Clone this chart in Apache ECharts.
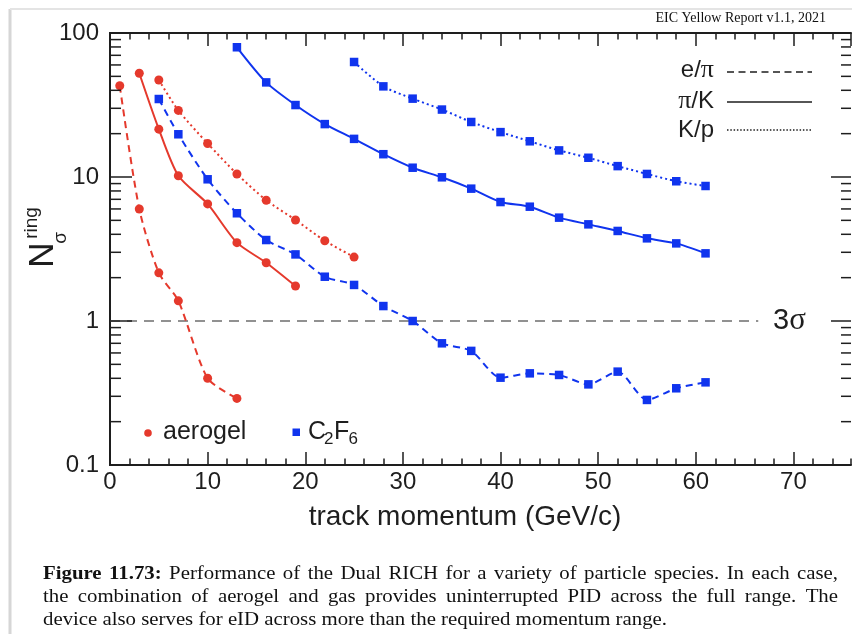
<!DOCTYPE html>
<html><head><meta charset="utf-8">
<script src="https://cdn.jsdelivr.net/npm/echarts@6/dist/echarts.min.js"></script>
<style>html,body{margin:0;padding:0;background:#fff}#c{width:852px;height:634px}</style>
</head><body><div id="c"></div><script>
// ---- data (track momentum in GeV/c, N_sigma^ring) ----
const aerogelEPiX = [1, 3, 5, 7, 10, 13];
const aerogelEPi  = [43, 6.0, 2.16, 1.38, 0.40, 0.29];
const aerogelPiKX = [3, 5, 7, 10, 13, 16, 19];
const aerogelPiK  = [52.5, 21.5, 10.2, 6.5, 3.5, 2.54, 1.75];
const aerogelKpX  = [5, 7, 10, 13, 16, 19, 22, 25];
const aerogelKp   = [47.2, 29, 17.1, 10.5, 6.9, 5.03, 3.61, 2.78];
const gasEPiX = [5, 7, 10, 13, 16, 19, 22, 25, 28, 31, 34, 37, 40, 43, 46, 49, 52, 55, 58, 61];
const gasEPi  = [34.8, 19.8, 9.64, 5.6, 3.65, 2.9, 2.03, 1.78, 1.27, 1.0, 0.70, 0.62, 0.404, 0.433, 0.422, 0.363, 0.445, 0.283, 0.341, 0.375];
const gasPiKX = [13, 16, 19, 22, 25, 28, 31, 34, 37, 40, 43, 46, 49, 52, 55, 58, 61];
const gasPiK  = [79.6, 45.4, 31.6, 23.3, 18.4, 14.4, 11.6, 9.95, 8.3, 6.7, 6.22, 5.22, 4.69, 4.22, 3.75, 3.46, 2.95];
const gasKpX  = [25, 28, 31, 34, 37, 40, 43, 46, 49, 52, 55, 58, 61];
const gasKp   = [62.9, 42.6, 35.0, 29.4, 24.1, 20.5, 17.7, 15.3, 13.6, 11.9, 10.5, 9.34, 8.66];
const threeSigmaX = [0, 66.4];
const threeSigmaY = [1, 1];
const yMajorTicks = [0.1, 1, 10, 100];
const yMinorTicks = [0.2,0.3,0.4,0.5,0.6,0.7,0.8,0.9, 2,3,4,5,6,7,8,9, 20,30,40,50,60,70,80,90];
const xMin = 0, xMax = 75.9, yMin = 0.1, yMax = 100;
const captionBold = ['Figure', '11.73:'];
const captionLines = [
  'Performance of the Dual RICH for a variety of particle species. In each case,',
  'the combination of aerogel and gas provides uninterrupted PID across the full range. The',
  'device also serves for eID across more than the required momentum range.'
];

const RED = '#e5392c', BLUE = '#1034ee', INK = '#1e1e1e';
const SANS = '"Liberation Sans", Arial, Helvetica, sans-serif';
const SERIF = '"Liberation Serif", "Times New Roman", serif';
const CAPF = '"Liberation Serif", serif';
const zip = (xs, ys) => xs.map((x, i) => [x, ys[i]]);

function lineSeries(name, xs, ys, color, symbol, size, dash) {
  return {
    name, type: 'line', data: zip(xs, ys), xAxisIndex: 0, yAxisIndex: 0,
    smooth: 0.25, symbol, symbolSize: size, showSymbol: true,
    itemStyle: { color }, lineStyle: { color, width: 2, type: dash },
    z: 4, animation: false
  };
}

// ---- caption layout (justified, horizontally widened to mimic the book face) ----
const mctx = document.createElement('canvas').getContext('2d');
function measure(t, font) { mctx.font = font; return mctx.measureText(t).width; }
const capSize = 18.5;
const capNorm = capSize + 'px ' + CAPF, capBold = 'bold ' + capSize + 'px ' + CAPF;
const capScale = 624 / measure(captionLines[2], capNorm);
const capGraphics = [];
function placeLine(words, y, justify) {
  const left = 43, right = 838;
  const widths = words.map(w => measure(w.t, w.b ? capBold : capNorm) * capScale);
  const total = widths.reduce((a, b) => a + b, 0);
  const gap = justify ? (right - left - total) / (words.length - 1) : measure(' ', capNorm) * capScale;
  let x = left;
  words.forEach((w, i) => {
    capGraphics.push({ type: 'text', x, y, scaleX: capScale, silent: true,
      style: { text: w.t, font: w.b ? capBold : capNorm, fill: '#111', align: 'left', verticalAlign: 'middle' } });
    x += widths[i] + gap;
  });
}
placeLine(captionBold.map(t => ({ t, b: true })).concat(captionLines[0].split(' ').map(t => ({ t, b: false }))), 574, true);
placeLine(captionLines[1].split(' ').map(t => ({ t, b: false })), 597, true);
placeLine(captionLines[2].split(' ').map(t => ({ t, b: false })), 620, false);

const chart = echarts.init(document.getElementById('c'), null, { renderer: 'canvas' });

const tickStyle = { color: INK, width: 1.5 };
function yTickSeries(name, values, lenL, lenR) {
  return { name, type: 'custom', coordinateSystem: 'cartesian2d', xAxisIndex: 0, yAxisIndex: 0,
    data: values.map(v => [xMin, v]), silent: true, clip: false, z: 5,
    renderItem: (params, api) => {
      const v = api.value(1);
      const a = api.coord([xMin, v]);
      const b = api.coord([xMax, v]);
      return { type: 'group', children: [
        { type: 'line', shape: { x1: a[0], y1: a[1], x2: a[0] + lenL, y2: a[1] }, style: { stroke: INK, lineWidth: 1.5 } },
        { type: 'line', shape: { x1: b[0], y1: b[1], x2: b[0] - lenR, y2: b[1] }, style: { stroke: INK, lineWidth: 1.5 } }
      ] };
    } };
}

const option = {
  animation: false,
  backgroundColor: '#fff',
  grid: { left: 110, right: 1, top: 33, bottom: 169, outerBoundsMode: 'none', containLabel: false },
  xAxis: [
    { type: 'value', position: 'bottom', min: xMin, max: xMax, interval: 10,
      axisLine: { lineStyle: { color: INK, width: 2 } },
      axisTick: { inside: true, length: 13, lineStyle: tickStyle },
      axisLabel: { fontSize: 24, color: INK, fontFamily: SANS, margin: 5, showMaxLabel: false },
      splitLine: { show: false } },
    { type: 'value', position: 'bottom', min: xMin, max: xMax, interval: 2,
      axisLine: { show: false },
      axisTick: { inside: true, length: 6.5, lineStyle: tickStyle },
      axisLabel: { show: false }, splitLine: { show: false } },
    { type: 'value', position: 'top', min: xMin, max: xMax, interval: 10,
      axisLine: { lineStyle: { color: INK, width: 2 } },
      axisTick: { inside: true, length: 13, lineStyle: tickStyle },
      axisLabel: { show: false }, splitLine: { show: false } },
    { type: 'value', position: 'top', min: xMin, max: xMax, interval: 2,
      axisLine: { show: false },
      axisTick: { inside: true, length: 6.5, lineStyle: tickStyle },
      axisLabel: { show: false }, splitLine: { show: false } }
  ],
  yAxis: [
    { type: 'log', logBase: 10, position: 'left', min: yMin, max: yMax,
      axisLine: { lineStyle: { color: INK, width: 2 } },
      axisTick: { show: false },
      axisLabel: { fontSize: 24, color: INK, fontFamily: SANS, margin: 11 },
      splitLine: { show: false } },
    { type: 'log', logBase: 10, position: 'right', min: yMin, max: yMax,
      axisLine: { lineStyle: { color: INK, width: 2 } },
      axisTick: { show: false },
      axisLabel: { show: false }, splitLine: { show: false } }
  ],
  series: [
    { name: '3sigma', type: 'line', data: zip(threeSigmaX, threeSigmaY), symbol: 'none',
      lineStyle: { color: '#6e6e6e', width: 1.3, type: [10, 7] }, z: 2, silent: true },
    yTickSeries('yMajor', yMajorTicks, 22, 20),
    yTickSeries('yMinor', yMinorTicks, 11, 10),
    lineSeries('aerogel e/pi', aerogelEPiX, aerogelEPi, RED, 'circle', 9, [7, 5]),
    lineSeries('aerogel pi/K', aerogelPiKX, aerogelPiK, RED, 'circle', 9, 'solid'),
    lineSeries('aerogel K/p', aerogelKpX, aerogelKp, RED, 'circle', 9, [2, 3]),
    lineSeries('C2F6 e/pi', gasEPiX, gasEPi, BLUE, 'rect', 8.5, [7, 5]),
    lineSeries('C2F6 pi/K', gasPiKX, gasPiK, BLUE, 'rect', 8.5, 'solid'),
    lineSeries('C2F6 K/p', gasKpX, gasKp, BLUE, 'rect', 8.5, [2, 3])
  ],
  graphic: [
    // page shadow edges
    { type: 'line', shape: { x1: 10, y1: 9, x2: 10, y2: 634 }, style: { stroke: '#d6d6d6', lineWidth: 3 }, silent: true },
    { type: 'line', shape: { x1: 10, y1: 9, x2: 852, y2: 9 }, style: { stroke: '#e4e4e4', lineWidth: 2 }, silent: true },
    // header
    { type: 'text', x: 826, y: 18, style: { text: 'EIC Yellow Report v1.1, 2021', font: '14px ' + SERIF, fill: '#111', align: 'right', verticalAlign: 'middle' } },
    // y axis title
    { type: 'group', x: 43.5, y: 255, rotation: Math.PI / 2, children: [
      { type: 'text', x: 0, y: 0, style: { text: 'N', font: '35px ' + SANS, fill: INK, align: 'center', verticalAlign: 'middle' } },
      { type: 'text', x: 17, y: 17.5, style: { text: 'σ', font: '19px ' + SANS, fill: INK, align: 'center', verticalAlign: 'middle' } },
      { type: 'text', x: 32, y: -11.5, style: { text: 'ring', font: '19px ' + SANS, fill: INK, align: 'center', verticalAlign: 'middle' } }
    ] },
    // x axis title
    { type: 'text', x: 465, y: 517, style: { text: 'track momentum (GeV/c)', font: '28px ' + SANS, fill: INK, align: 'center', verticalAlign: 'middle' } },
    // 3 sigma label
    { type: 'text', x: 773, y: 321, style: { text: '{a|3}{b|σ}', align: 'left', verticalAlign: 'middle',
        rich: { a: { font: '29px ' + SANS, fill: INK }, b: { font: '31px ' + SERIF, fill: INK } } } },
    // line-style legend
    { type: 'text', x: 714, y: 70, style: { text: '{a|e/}{b|π}', align: 'right', verticalAlign: 'middle',
        rich: { a: { font: '24px ' + SANS, fill: INK }, b: { font: '26px ' + SERIF, fill: INK } } } },
    { type: 'text', x: 714, y: 101, style: { text: '{b|π}{a|/K}', align: 'right', verticalAlign: 'middle',
        rich: { a: { font: '24px ' + SANS, fill: INK }, b: { font: '26px ' + SERIF, fill: INK } } } },
    { type: 'text', x: 714, y: 130, style: { text: 'K/p', font: '24px ' + SANS, fill: INK, align: 'right', verticalAlign: 'middle' } },
    { type: 'line', shape: { x1: 727, y1: 72, x2: 812, y2: 72 }, style: { stroke: INK, lineWidth: 1.5, lineDash: [7, 4.5] } },
    { type: 'line', shape: { x1: 727, y1: 102, x2: 812, y2: 102 }, style: { stroke: INK, lineWidth: 1.6 } },
    { type: 'line', shape: { x1: 727, y1: 130, x2: 812, y2: 130 }, style: { stroke: INK, lineWidth: 1.5, lineDash: [1.5, 1.8] } },
    // material legend
    { type: 'circle', shape: { cx: 148, cy: 433, r: 3.8 }, style: { fill: RED } },
    { type: 'text', x: 163, y: 432, style: { text: 'aerogel', font: '25px ' + SANS, fill: INK, align: 'left', verticalAlign: 'middle' } },
    { type: 'rect', shape: { x: 292.5, y: 428.5, width: 7.5, height: 7.5 }, style: { fill: BLUE } },
    { type: 'text', x: 308, y: 432, style: { text: 'C', font: '25px ' + SANS, fill: INK, align: 'left', verticalAlign: 'middle' } },
    { type: 'text', x: 324, y: 439, style: { text: '2', font: '17px ' + SANS, fill: INK, align: 'left', verticalAlign: 'middle' } },
    { type: 'text', x: 334, y: 432, style: { text: 'F', font: '25px ' + SANS, fill: INK, align: 'left', verticalAlign: 'middle' } },
    { type: 'text', x: 348.5, y: 439, style: { text: '6', font: '17px ' + SANS, fill: INK, align: 'left', verticalAlign: 'middle' } }
  ].concat(capGraphics)
};
chart.setOption(option);
</script></body></html>
